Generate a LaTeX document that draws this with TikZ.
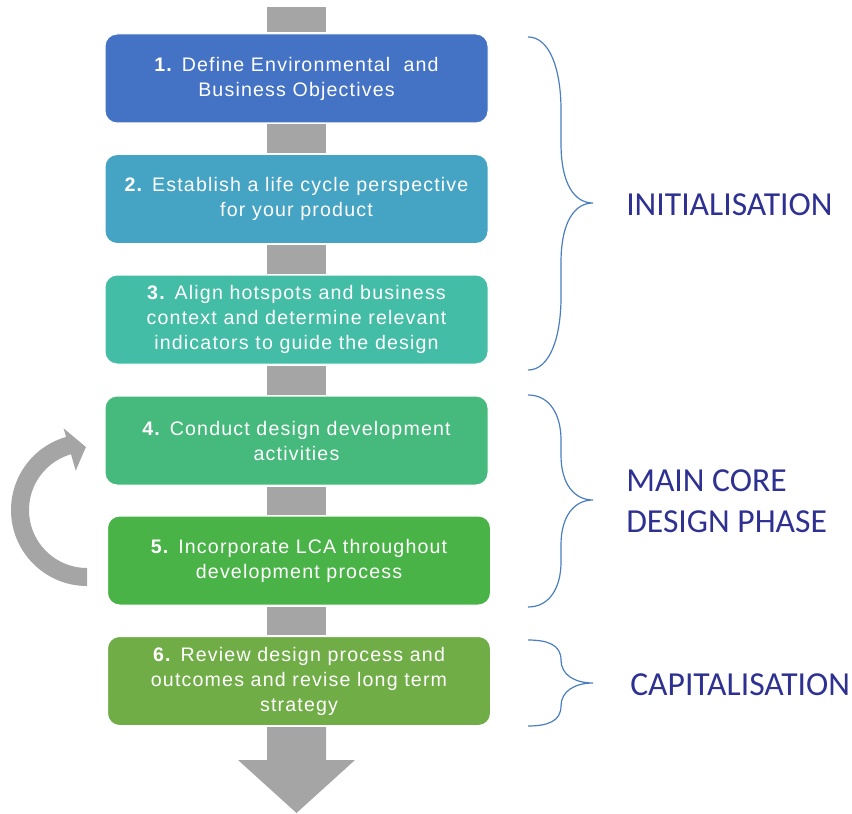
\documentclass[tikz,border=0pt]{standalone}
\usepackage{fontspec}
\setmainfont{Liberation Sans}
\newfontfamily\boxfont[LetterSpace=6]{Liberation Sans}
\newfontfamily\phasefont{Carlito}
\usetikzlibrary{calc}
\definecolor{cone}{HTML}{4472C4}
\definecolor{ctwo}{HTML}{45A3C4}
\definecolor{cthree}{HTML}{44BDA6}
\definecolor{cfour}{HTML}{46B97C}
\definecolor{cfive}{HTML}{4AB348}
\definecolor{csix}{HTML}{70AD47}
\definecolor{cgray}{HTML}{A5A5A5}
\definecolor{cbrace}{HTML}{4A7EBF}
\definecolor{cphase}{HTML}{2E3192}
\begin{document}
\begin{tikzpicture}[x=0.75pt,y=-0.75pt]
\tikzset{
  stepbox/.style={rounded corners=9pt, minimum width=287.25pt, minimum height=66.75pt,
    text=white, align=center, font=\boxfont\fontsize{14.7}{18.75}\selectfont,
    inner sep=0pt, draw=white, line width=0.75pt},
  conn/.style={fill=cgray},
  bracepath/.style={draw=cbrace, line width=0.9pt},
  phase/.style={text=cphase, font=\phasefont\fontsize{25.2}{30.75}\selectfont, inner sep=0pt, align=left}
}
\useasboundingbox (0,0) rectangle (852,813);

\coordinate (cx) at (296.5,0);
\coordinate (top) at (296.5,7);
\coordinate (tip) at (296.5,813);

\node[stepbox, fill=cone]   (b1) at (296.5,78.5) {\textbf{1.} Define Environmental~ and\\Business Objectives};
\node[stepbox, fill=ctwo]   (b2) at (296.5,199)  {\textbf{2.} Establish a life cycle perspective\\for your product};
\node[stepbox, fill=cthree] (b3) at (296.5,319.5) {\textbf{3.} Align hotspots and business\\context and determine relevant\\indicators to guide the design};
\node[stepbox, fill=cfour]  (b4) at (296.5,440.5) {\textbf{4.} Conduct design development\\activities};
\node[stepbox, fill=cfive]  (b5) at (299,560.5)   {\textbf{5.} Incorporate LCA throughout\\development process};
\node[stepbox, fill=csix]   (b6) at (299,681)     {\textbf{6.} Review design process and\\outcomes and revise long term\\strategy};

\path (b5.north -| cx) coordinate (b5n);
\path (b5.south -| cx) coordinate (b5s);
\path (b6.north -| cx) coordinate (b6n);
\path (b6.south -| cx) coordinate (b6s);

% connectors
\fill[conn] ($(top)+(-29.5,0)$) rectangle ($(b1.north)+(29.5,-1)$);
\fill[conn] ($(b1.south)+(-29.5,1)$) rectangle ($(b2.north)+(29.5,-1)$);
\fill[conn] ($(b2.south)+(-29.5,1)$) rectangle ($(b3.north)+(29.5,-1)$);
\fill[conn] ($(b3.south)+(-29.5,1)$) rectangle ($(b4.north)+(29.5,-1)$);
\fill[conn] ($(b4.south)+(-29.5,1)$) rectangle ($(b5n)+(29.5,-1)$);
\fill[conn] ($(b5s)+(-29.5,1)$) rectangle ($(b6n)+(29.5,-1)$);
\fill[conn] ($(b6s)+(-29.5,1)$) -- ($(b6s)+(-29.5,34)$) -- ($(b6s)+(-58.5,34)$) -- (tip)
  -- ($(b6s)+(58.5,34)$) -- ($(b6s)+(29.5,34)$) -- ($(b6s)+(29.5,1)$) -- cycle;

% loop arrow
\coordinate (lc) at (87,510);
\fill[conn] ($(lc)+(90:76)$) arc[start angle=90, end angle=254, radius=76]
  -- ($(lc)+(254:85)$) -- ($(lc)+(269:63)$) -- ($(lc)+(254:41)$)
  -- ($(lc)+(254:58)$) arc[start angle=254, end angle=90, radius=58] -- cycle;

% braces
\draw[bracepath] (528,37) .. controls (550,37) and (561,70) .. (561,110) -- (561,143)
  .. controls (561,185) and (575,203) .. (593,203)
  .. controls (575,203) and (561,221) .. (561,263) -- (561,297)
  .. controls (561,337) and (550,370) .. (528,370);
\draw[bracepath] (528,395) .. controls (550,395) and (561,415) .. (561,440) -- (561,455)
  .. controls (561,485) and (575,500) .. (593,500)
  .. controls (575,500) and (561,515) .. (561,545) -- (561,562)
  .. controls (561,587) and (550,607) .. (528,607);
\draw[bracepath] (528,640) .. controls (548,640) and (561,645) .. (561,660)
  .. controls (561,675) and (575,683) .. (593,683)
  .. controls (575,683) and (561,691) .. (561,706)
  .. controls (561,721) and (548,726) .. (528,726);

% phase labels
\node[phase, anchor=base west] (p1) at (626,215) {INITIALISATION};
\node[phase, anchor=west] (p2) at (626,501.5) {MAIN CORE\\DESIGN PHASE};
\node[phase, anchor=base west] (p3) at (630,695) {CAPITALISATION};
\end{tikzpicture}
\end{document}
